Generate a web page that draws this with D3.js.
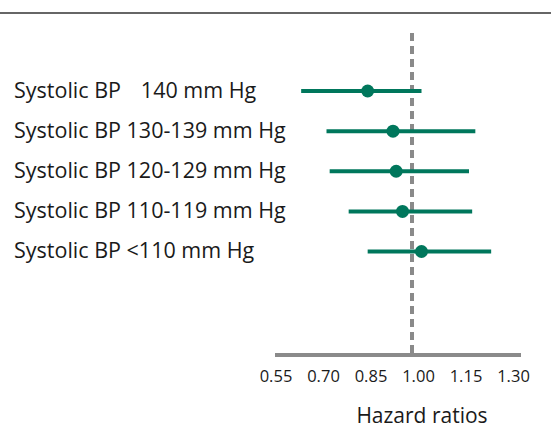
<!DOCTYPE html>
<html>
<head>
<meta charset="utf-8">
<script src="https://cdn.jsdelivr.net/npm/d3@7"></script>
<style>
    html, body { margin: 0; padding: 0; background: #fff; }
    svg { display: block; }
    .row-label, .tick-label, .axis-title {
        font-family: "Open Sans", "Noto Sans", sans-serif;
        fill: #1a1a1a;
    }
</style>
</head>
<body>
<svg id="chart" width="551" height="445"></svg>
<script>
// --- data ---
const categories = [
    "Systolic BP \u2002\u2009140 mm Hg",
    "Systolic BP 130-139 mm Hg",
    "Systolic BP 120-129 mm Hg",
    "Systolic BP 110-119 mm Hg",
    "Systolic BP <110 mm Hg",
];
const hazardRatio = [0.86, 0.94, 0.95, 0.97, 1.03];
const lowerCI = [0.65, 0.73, 0.74, 0.80, 0.86];
const upperCI = [1.03, 1.20, 1.18, 1.19, 1.25];
const tickValues = [0.55, 0.70, 0.85, 1.00, 1.15, 1.30];
const axisTitle = "Hazard ratios";

document.addEventListener("DOMContentLoaded", () => {
    const svg = d3.select("#chart");
    const green = "#00775c";
    const grey = "#8a8a8a";

    const rows = categories.map((c, i) => ({
        label: c,
        hr: hazardRatio[i],
        lo: lowerCI[i],
        hi: upperCI[i],
    }));

    // x scale (reference line at 1.00)
    const x = d3.scaleLinear()
        .domain([0.55, 1.30])
        .range([269.5, 507]);

    const y = d3.scalePoint()
        .domain(categories)
        .range([91, 251.5]);

    const axisY = 355;

    // top rule
    svg.append("line")
        .attr("x1", 0).attr("x2", 551)
        .attr("y1", 13).attr("y2", 13)
        .attr("stroke", "#666")
        .attr("stroke-width", 2);

    // reference line at HR = 1
    svg.append("line")
        .attr("x1", x(1)).attr("x2", x(1))
        .attr("y1", 33).attr("y2", axisY - 2)
        .attr("stroke", grey)
        .attr("stroke-width", 4)
        .attr("stroke-dasharray", "8,5");

    // x axis
    const axis = svg.append("g")
        .attr("transform", `translate(0,${axisY})`)
        .call(d3.axisBottom(x)
            .tickValues(tickValues)
            .tickFormat(d3.format(".2f"))
            .tickSize(0)
            .tickPadding(15));
    axis.select(".domain").remove();
    axis.selectAll(".tick text")
        .attr("class", "tick-label")
        .attr("dx", 6)
        .style("font-size", "16.5px");

    svg.append("line")
        .attr("x1", 275).attr("x2", 521)
        .attr("y1", axisY).attr("y2", axisY)
        .attr("stroke", grey)
        .attr("stroke-width", 4);

    svg.append("text")
        .attr("class", "axis-title")
        .attr("x", 422)
        .attr("y", 423)
        .attr("text-anchor", "middle")
        .style("font-size", "21px")
        .text(axisTitle);

    // row labels
    svg.selectAll(".row-label")
        .data(rows)
        .enter()
        .append("text")
        .attr("class", "row-label")
        .attr("x", 14)
        .attr("y", (d) => y(d.label) + 6.5)
        .style("font-size", "21.5px")
        .style("white-space", "pre")
        .text((d) => d.label);

    // CI lines
    svg.selectAll(".ci")
        .data(rows)
        .enter()
        .append("line")
        .attr("class", "ci")
        .attr("x1", (d) => x(d.lo))
        .attr("x2", (d) => x(d.hi))
        .attr("y1", (d) => y(d.label))
        .attr("y2", (d) => y(d.label))
        .attr("stroke", green)
        .attr("stroke-width", 4);

    // point estimates
    svg.selectAll(".pt")
        .data(rows)
        .enter()
        .append("circle")
        .attr("class", "pt")
        .attr("cx", (d) => x(d.hr))
        .attr("cy", (d) => y(d.label))
        .attr("r", 6.5)
        .attr("fill", green);
});
</script>
</body>
</html>
